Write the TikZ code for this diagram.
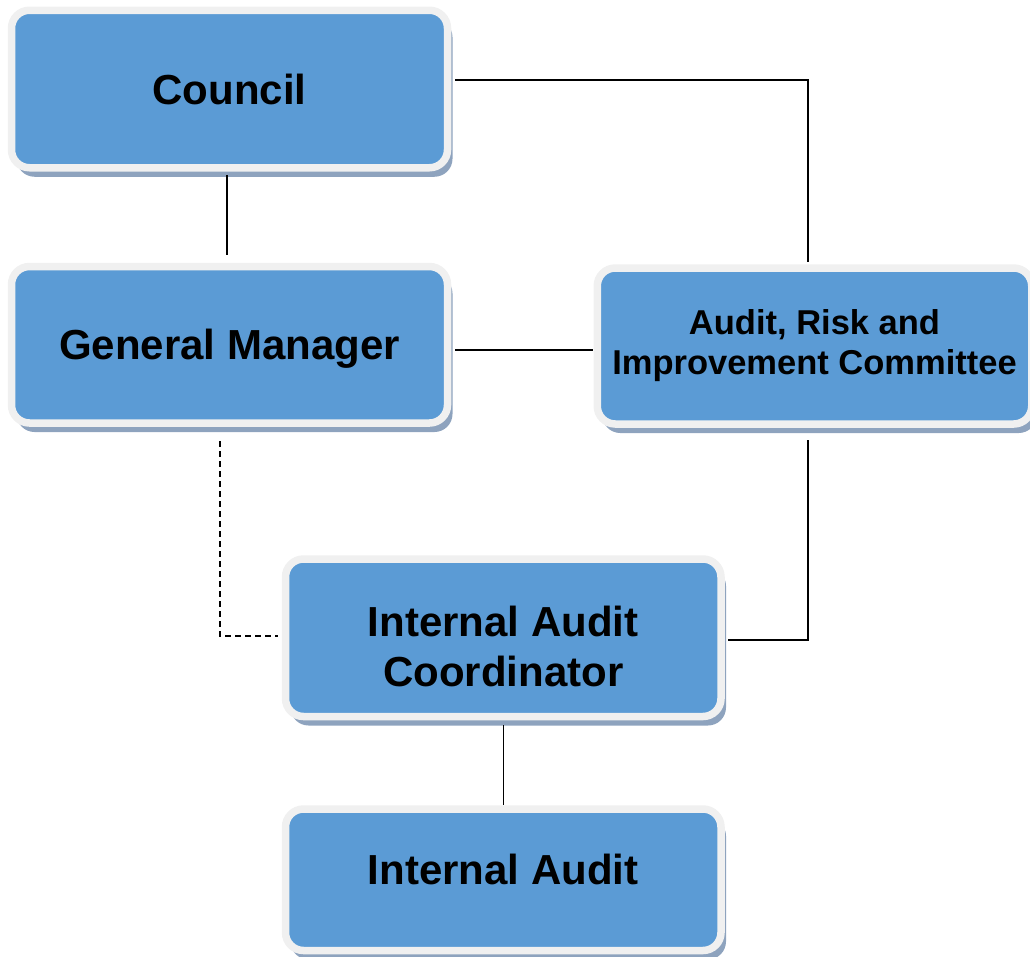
\documentclass[tikz,border=0pt]{standalone}
\usepackage{fontspec}
\setmainfont{Liberation Sans}
\usetikzlibrary{shadows,calc}
\definecolor{boxblue}{HTML}{5B9BD5}
\definecolor{ringgray}{HTML}{F0F0F0}
\definecolor{shadowcol}{HTML}{8EA3BE}
\tikzset{
  orgbox/.style={rectangle, rounded corners=18pt, fill=boxblue, draw=ringgray,
    line width=7.5pt, outer sep=0pt, inner sep=0pt, align=center,
    font=\fontsize{42}{50}\selectfont\bfseries, text=black,
    drop shadow={shadow xshift=5pt, shadow yshift=-9pt, fill=shadowcol, opacity=1}},
  link/.style={draw=black, line width=1.2pt},
  dlink/.style={draw=black, line width=1.5pt, dash pattern=on 6pt off 4pt}
}
\begin{document}
\begin{tikzpicture}[x=1pt,y=-1pt]
\useasboundingbox (0,0) rectangle (1030,956);
\node[orgbox, minimum width=436pt, minimum height=157.5pt] (council) at (229.5,89) {Council};
\node[orgbox, minimum width=436pt, minimum height=156.5pt, text height=30pt, text depth=0pt] (gm) at (229.5,344.75) {General Manager};
\node[orgbox, minimum width=434.5pt, minimum height=156pt, font=\fontsize{34.5}{40}\selectfont\bfseries] (arc) at (814.5,346) {Audit, Risk and\\Improvement Committee};
\node[orgbox, minimum width=435.5pt, minimum height=157.5pt] (iac) at (503.25,637.75) {\rule{0pt}{48pt}Internal Audit\\Coordinator};
\node[orgbox, minimum width=435.5pt, minimum height=141.5pt] (ia) at (503.25,879.75) {Internal Audit\rule[-20pt]{0pt}{0pt}};

\draw[link] ([xshift=7.5pt,yshift=9pt]council.east) -| ([xshift=-6.5pt,yshift=6pt]arc.north);
\draw[link] ([xshift=-2.5pt,yshift=-7pt]council.south) -- ([xshift=-2.5pt,yshift=11.5pt]gm.north);
\draw[link] ($(gm.east)+(7.5pt,-5.25pt)$) -- ($(arc.west |- gm.east)+(-4pt,-5.25pt)$);
\draw[link] ([xshift=-6.5pt,yshift=-16pt]arc.south) |- ($(iac.east)+(7pt,-2.25pt)$);
\draw[dlink] ([xshift=-9.5pt,yshift=-18pt]gm.south) |- ($(iac.west)+(-7.5pt,1.75pt)$);
\draw[link] ([yshift=-8.5pt]iac.south) -- ([yshift=4pt]ia.north);
\end{tikzpicture}
\end{document}
